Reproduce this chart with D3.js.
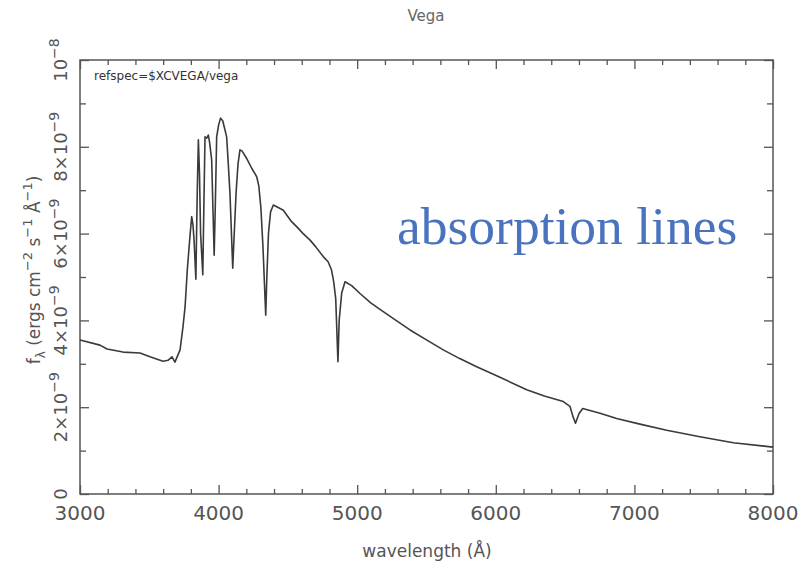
<!DOCTYPE html>
<html><head><meta charset="utf-8">
<script src="https://cdn.jsdelivr.net/npm/d3@7"></script>
<style>
body{margin:0;background:#fff;}
svg{display:block;}
</style></head>
<body>
<svg id="c" width="801" height="565"></svg>
<script>
// Wavelength in Å
const wavelength = [3000,3144,3195,3310,3433,3505,3599,3635,3664,3685,3722,3743,3758,3775,3795,3806,3815,3823,3836,3845,3854,3862,3870,3886,3893,3902,3915,3926,3935,3950,3968,3976,3986,4000,4014,4030,4058,4070,4082,4102,4110,4126,4140,4154,4170,4203,4240,4275,4290,4305,4320,4340,4348,4360,4375,4395,4430,4467,4520,4563,4610,4660,4700,4755,4790,4815,4830,4845,4861,4870,4888,4912,4960,5020,5100,5188,5280,5381,5500,5621,5740,5862,6030,6223,6350,6487,6535,6555,6575,6600,6627,6752,6872,7040,7233,7473,7714,8000];
// Flux in units of 1e-9 ergs cm^-2 s^-1 Å^-1
const flux = [3.55,3.43,3.34,3.27,3.25,3.16,3.06,3.08,3.16,3.04,3.32,3.85,4.31,5.2,6.0,6.39,6.2,5.85,4.95,6.8,8.16,7.4,6.0,5.05,6.5,8.23,8.2,8.27,8.1,7.70,5.5,6.6,8.23,8.5,8.66,8.6,8.23,7.6,6.93,5.2,5.8,6.93,7.6,7.93,7.9,7.73,7.5,7.31,7.1,6.6,5.7,4.12,5.0,6.01,6.5,6.66,6.6,6.54,6.3,6.16,6.0,5.85,5.7,5.47,5.35,5.16,4.9,4.5,3.05,4.0,4.63,4.89,4.8,4.62,4.4,4.20,4.0,3.78,3.55,3.32,3.12,2.93,2.69,2.40,2.26,2.13,2.02,1.8,1.63,1.85,1.97,1.86,1.74,1.61,1.47,1.32,1.18,1.08];
const xTickLabels = ["3000","4000","5000","6000","7000","8000"];
const yTickValues = [0,2,4,6,8,10];
const yTickLabels = [["0",""],["2×10","−9"],["4×10","−9"],["6×10","−9"],["8×10","−9"],["10","−8"]];
const title = "Vega";
const xTitle = "wavelength (Å)";
const note = "refspec=$XCVEGA/vega";
const annotation = "absorption lines";

const svg = d3.select("#c");
const L=80, R=773, T=60, B=494;
const x = d3.scaleLinear().domain([3000,8000]).range([L,R]);
const y = d3.scaleLinear().domain([0,10]).range([B,T]);
const axisCol = "#555";
const font = "'DejaVu Sans', sans-serif";

// frame
svg.append("rect").attr("x",L).attr("y",T).attr("width",R-L).attr("height",B-T)
  .attr("fill","none").attr("stroke",axisCol).attr("stroke-width",1.5);

// ticks (inward) via d3 axes
function addAxis(gen, tx, ty){
  const g = svg.append("g").attr("transform",`translate(${tx},${ty})`).call(gen);
  g.select(".domain").remove();
  g.selectAll("text").remove();
  g.selectAll("line").attr("stroke",axisCol).attr("stroke-width",1.3);
  return g;
}
const xMajor = d3.range(3000,8001,1000), xMinor = d3.range(3000,8001,200).filter(v=>v%1000!==0);
const yMajor = d3.range(0,10.01,2), yMinor = d3.range(1,10,2);
addAxis(d3.axisBottom(x).tickValues(xMajor).tickSize(-9),0,B);
addAxis(d3.axisBottom(x).tickValues(xMinor).tickSize(-5),0,B);
addAxis(d3.axisTop(x).tickValues(xMajor).tickSize(-9),0,T);
addAxis(d3.axisTop(x).tickValues(xMinor).tickSize(-5),0,T);
addAxis(d3.axisLeft(y).tickValues(yMajor).tickSize(-9),L,0);
addAxis(d3.axisLeft(y).tickValues(yMinor).tickSize(-6),L,0);
addAxis(d3.axisRight(y).tickValues(yMajor).tickSize(-9),R,0);
addAxis(d3.axisRight(y).tickValues(yMinor).tickSize(-6),R,0);

// x tick labels
svg.append("g").selectAll("text").data(xTickLabels).join("text")
  .attr("x",d=>x(+d)).attr("y",520).attr("text-anchor","middle")
  .attr("font-family",font).attr("font-size",20).attr("fill","#555").text(d=>d);

// y tick labels (rotated)
const yl = svg.append("g").selectAll("text").data(yTickValues).join("text")
  .attr("transform",(d)=>`translate(67,${y(d)}) rotate(-90)`)
  .attr("text-anchor","middle").attr("font-family",font).attr("font-size",18).attr("fill","#555");
yl.each(function(d,i){
  const t=d3.select(this);
  t.append("tspan").text(yTickLabels[i][0]);
  if(yTickLabels[i][1]) t.append("tspan").attr("dy",-8).attr("font-size",14).text(yTickLabels[i][1]);
});

// y title
const yt = svg.append("text").attr("transform","translate(40,270) rotate(-90)")
  .attr("text-anchor","middle").attr("font-family",font).attr("font-size",17).attr("fill","#555");
yt.append("tspan").text("f");
yt.append("tspan").attr("dy",5).attr("font-size",12).text("λ");
yt.append("tspan").attr("dy",-5).text(" (ergs cm");
yt.append("tspan").attr("dy",-8).attr("font-size",13).text("−2");
yt.append("tspan").attr("dy",8).text(" s");
yt.append("tspan").attr("dy",-8).attr("font-size",13).text("−1");
yt.append("tspan").attr("dy",8).text(" Å");
yt.append("tspan").attr("dy",-8).attr("font-size",13).text("−1");
yt.append("tspan").attr("dy",8).text(")");

// x title
svg.append("text").attr("x",427).attr("y",557).attr("text-anchor","middle")
  .attr("font-family",font).attr("font-size",17).attr("fill","#555").text(xTitle);

// title
svg.append("text").attr("x",426).attr("y",21).attr("text-anchor","middle")
  .attr("font-family",font).attr("font-size",15).attr("fill","#666").text(title);

// note
svg.append("text").attr("x",94).attr("y",80)
  .attr("font-family",font).attr("font-size",12).attr("fill","#333").text(note);

// spectrum
const pts = wavelength.map((w,i)=>[w,flux[i]]);
svg.append("path").datum(pts)
  .attr("d",d3.line().x(d=>x(d[0])).y(d=>y(d[1])))
  .attr("fill","none").attr("stroke","#3a3a3a").attr("stroke-width",1.6).attr("stroke-linejoin","round");

// annotation
svg.append("text").attr("x",397).attr("y",244)
  .attr("font-family","'Liberation Serif', 'Times New Roman', serif").attr("font-size",53.5)
  .attr("fill","#4a73bf").text(annotation);
</script>
</body></html>
